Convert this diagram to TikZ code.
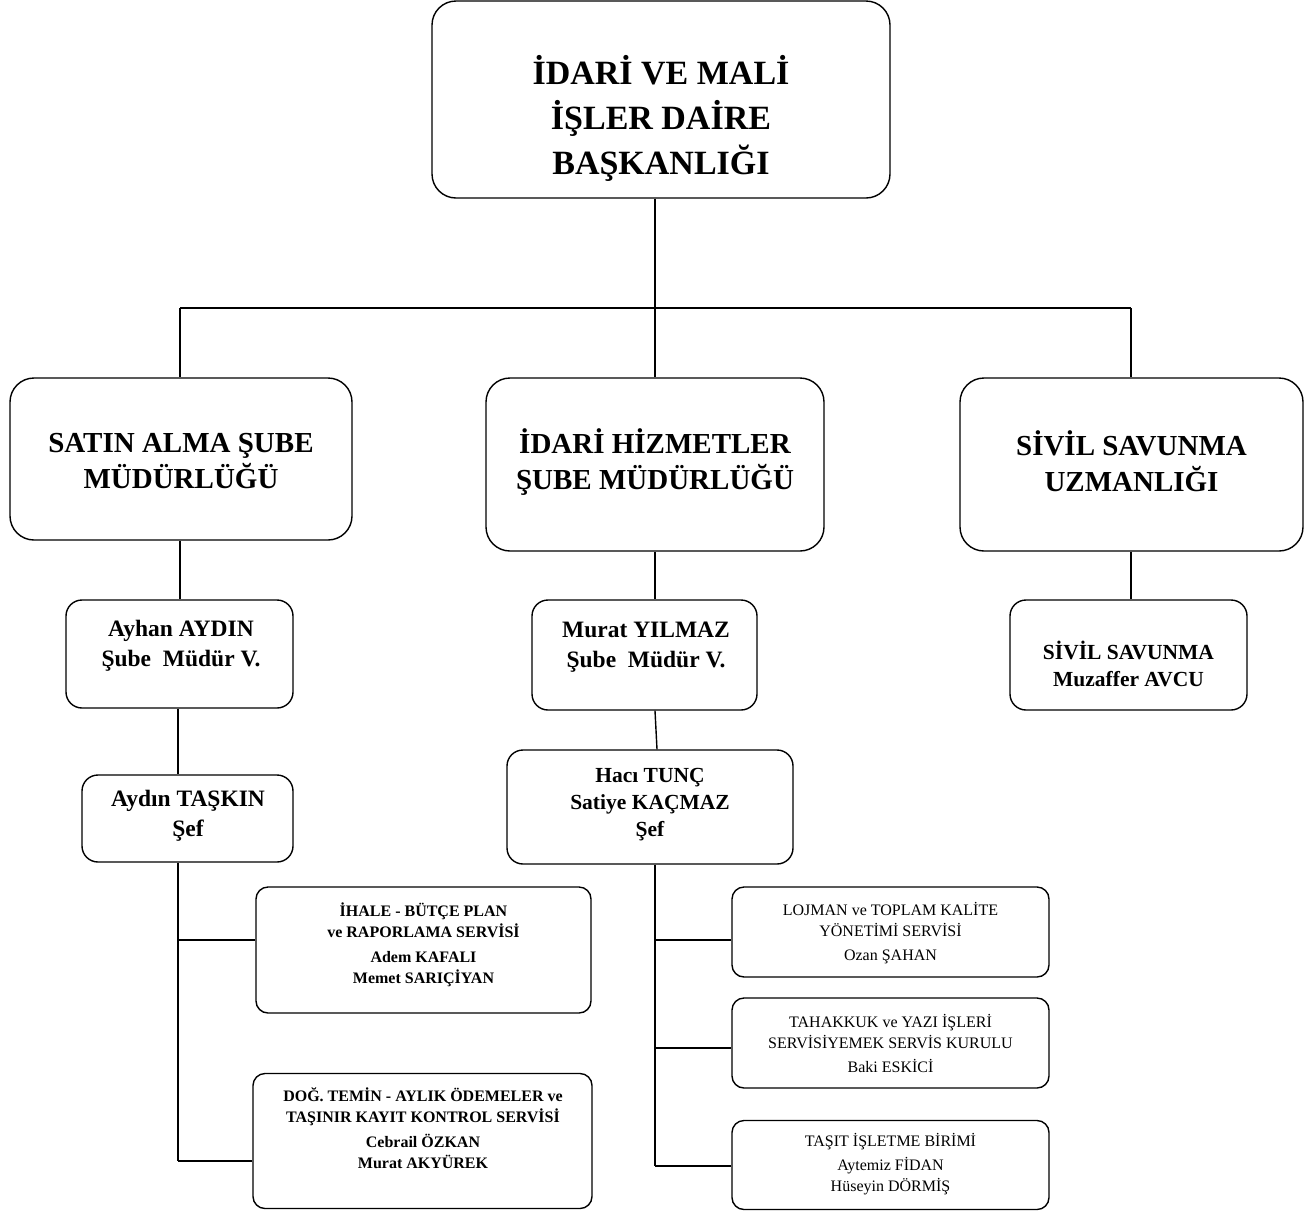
\documentclass[tikz,border=0pt]{standalone}
\usepackage{fontspec}
\setmainfont{Liberation Serif}
\begin{document}
\begin{tikzpicture}[x=1pt,y=-1pt,line width=1.4pt,
  bigbox/.style={draw,rectangle,rounded corners=24pt,inner sep=0pt},
  midbox/.style={draw,rectangle,rounded corners=16pt,inner sep=0pt},
  smallbox/.style={draw,rectangle,rounded corners=12pt,inner sep=0pt},
  lbl/.style={align=center,inner sep=0pt},
  ftop/.style={font=\fontsize{34}{45}\selectfont\bfseries},
  fsec/.style={font=\fontsize{29}{36}\selectfont\bfseries},
  fmid/.style={font=\fontsize{23.5}{30}\selectfont\bfseries},
  fsiv/.style={font=\fontsize{21.5}{27}\selectfont\bfseries},
  fsb/.style={font=\fontsize{16}{21}\selectfont\bfseries},
  fsn/.style={font=\fontsize{16}{21}\selectfont}]
\useasboundingbox (0,0) rectangle (1312,1211);

% boxes
\node[bigbox,minimum width=458pt,minimum height=197pt] (top) at (661,99.5) {};
\node[lbl,ftop] (top-t) at (661,118) {İDARİ VE MALİ\\İŞLER DAİRE\\BAŞKANLIĞI};

\node[bigbox,minimum width=342pt,minimum height=162pt] (satin) at (181,459) {};
\node[lbl,fsec] (satin-t) at (181,461) {SATIN ALMA ŞUBE\\MÜDÜRLÜĞÜ};
\node[bigbox,minimum width=338pt,minimum height=173pt] (idari) at (655,464.5) {};
\node[lbl,fsec] (idari-t) at (655,462) {İDARİ HİZMETLER\\ŞUBE MÜDÜRLÜĞÜ};
\node[bigbox,minimum width=343pt,minimum height=173pt] (sivil) at (1131.5,464.5) {};
\node[lbl,fsec] (sivil-t) at (1131.5,461) {SİVİL SAVUNMA\\UZMANLIĞI};

\node[midbox,minimum width=227pt,minimum height=108pt] (ayhan) at (179.5,654) {};
\node[lbl,fmid] (ayhan-t) at (181,646) {Ayhan AYDIN\\Şube\ \ Müdür V.};
\node[midbox,minimum width=211pt,minimum height=87pt] (aydin) at (187.5,818.5) {};
\node[lbl,fmid] (aydin-t) at (188,816) {Aydın TAŞKIN\\Şef};

\node[midbox,minimum width=225pt,minimum height=110pt] (murat) at (644.5,655) {};
\node[lbl,fmid] (murat-t) at (646,647) {Murat YILMAZ\\Şube\ \ Müdür V.};
\node[midbox,minimum width=286pt,minimum height=114pt] (haci) at (650,807) {};
\node[lbl,fsiv] (haci-t) at (650,805) {Hacı TUNÇ\\Satiye KAÇMAZ\\Şef};

\node[midbox,minimum width=237pt,minimum height=110pt] (sivil2) at (1128.5,655) {};
\node[lbl,fsiv] (sivil2-t) at (1128.5,664) {SİVİL SAVUNMA\\Muzaffer AVCU};

\node[smallbox,minimum width=335pt,minimum height=126pt] (ihale) at (423.5,950) {};
\node[lbl,fsb] (ihale-t) at (423.5,945) {İHALE - BÜTÇE PLAN\\ve RAPORLAMA SERVİSİ\\[4pt]Adem KAFALI\\Memet SARIÇİYAN};
\node[smallbox,minimum width=339pt,minimum height=135pt] (dog) at (422.5,1141) {};
\node[lbl,fsb] (dog-t) at (423,1128) {DOĞ. TEMİN - AYLIK ÖDEMELER ve\\TAŞINIR KAYIT KONTROL SERVİSİ\\[4pt]Cebrail ÖZKAN\\Murat AKYÜREK};

\node[smallbox,minimum width=317pt,minimum height=90pt] (lojman) at (890.5,932) {};
\node[lbl,fsn] (lojman-t) at (890.5,933) {LOJMAN ve TOPLAM KALİTE\\YÖNETİMİ SERVİSİ\\[3pt]Ozan ŞAHAN};
\node[smallbox,minimum width=317pt,minimum height=90pt] (tahakkuk) at (890.5,1043) {};
\node[lbl,fsn] (tahakkuk-t) at (890.5,1043) {TAHAKKUK ve YAZI İŞLERİ\\SERVİSİYEMEK SERVİS KURULU\\[3pt]Baki ESKİCİ};
\node[smallbox,minimum width=317pt,minimum height=89pt] (tasit) at (890.5,1165) {};
\node[lbl,fsn] (tasit-t) at (890.5,1164) {TAŞIT İŞLETME BİRİMİ\\[3pt]Aytemiz FİDAN\\Hüseyin DÖRMİŞ};

% connectors
\coordinate (busL) at (180,308);
\coordinate (busM) at (655,308);
\coordinate (busR) at (1131,308);
\draw (top.south -| busM) -- (busM);
\draw (busL) -- (busR);
\draw (busL) -- (busL |- satin.north);
\draw (busM) -- (idari.north);
\draw (busR) -- (busR |- sivil.north);

\draw (satin.south -| busL) -- (busL |- ayhan.north);
\coordinate (spL) at (178,862);
\draw (spL |- ayhan.south) -- (spL |- aydin.north);
\coordinate (jL1) at (178,940);
\coordinate (jL2) at (178,1161);
\draw (spL |- aydin.south) -- (jL2);
\draw (jL1) -- (jL1 -| ihale.west);
\draw (jL2) -- (jL2 -| dog.west);

\draw (idari.south) -- (idari.south |- murat.north);
\draw ([xshift=10.5pt]murat.south) -- ([xshift=7pt]haci.north);
\coordinate (jM1) at (655,940);
\coordinate (jM2) at (655,1048);
\coordinate (jM3) at (655,1166);
\draw (jM1 |- haci.south) -- (jM3);
\draw (jM1) -- (jM1 -| lojman.west);
\draw (jM2) -- (jM2 -| tahakkuk.west);
\draw (jM3) -- (jM3 -| tasit.west);

\draw (busR |- sivil.south) -- (busR |- sivil2.north);
\end{tikzpicture}
\end{document}
